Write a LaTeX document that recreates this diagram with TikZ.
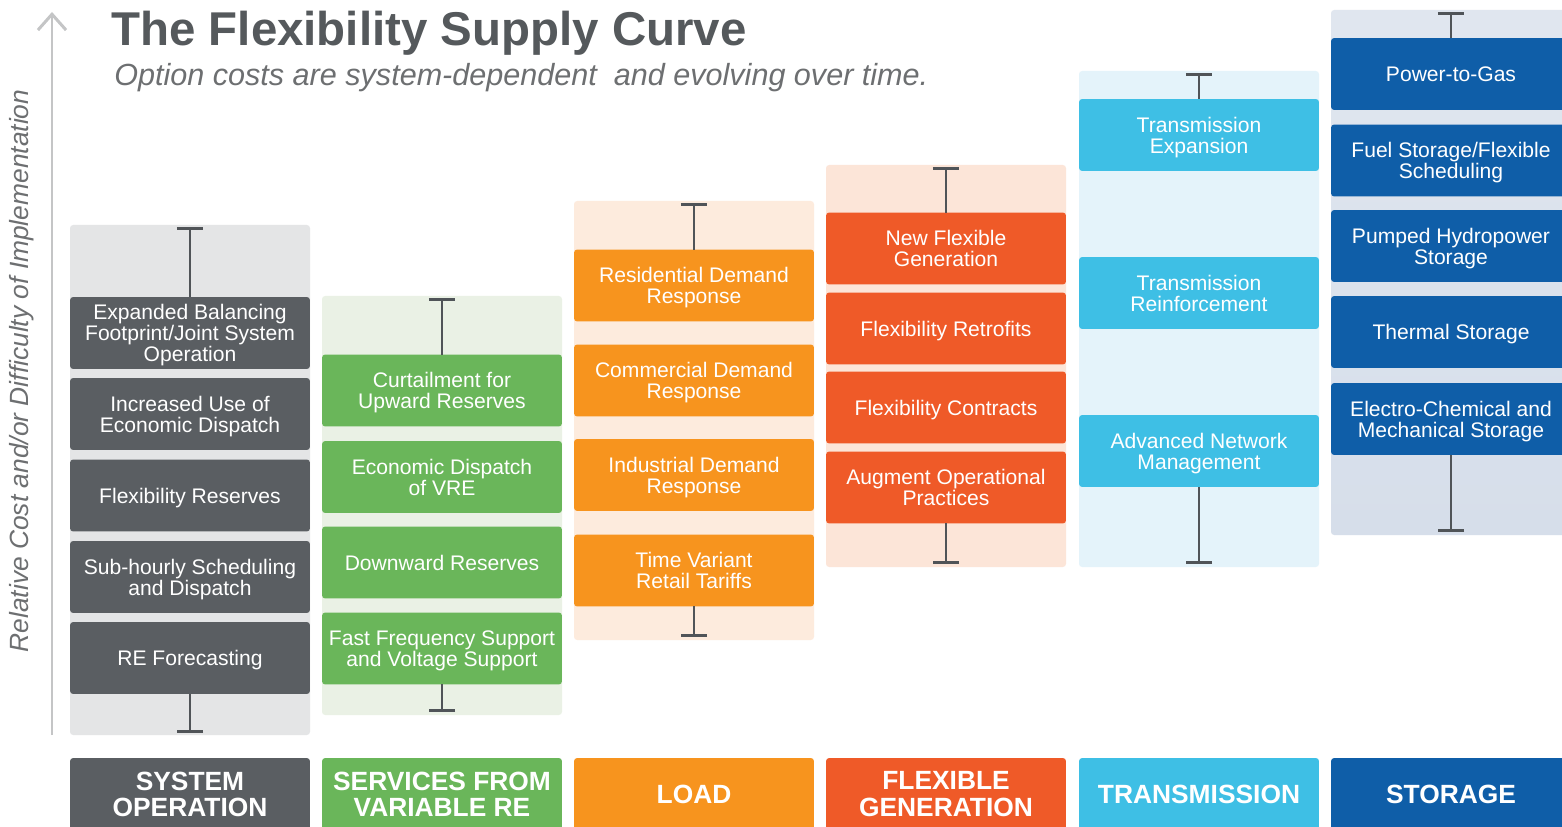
\documentclass[tikz,border=0pt]{standalone}
\usepackage{fontspec}
\setmainfont{Liberation Sans}
\usetikzlibrary{arrows.meta}

\definecolor{sysop}{HTML}{5A5E62}
\definecolor{sysopbg}{HTML}{E4E5E6}
\definecolor{vre}{HTML}{6AB65A}
\definecolor{vrebg}{HTML}{EAF1E5}
\definecolor{load}{HTML}{F7941E}
\definecolor{loadbg}{HTML}{FDEBDD}
\definecolor{flexgen}{HTML}{EF5A28}
\definecolor{flexgenbg}{HTML}{FCE5D8}
\definecolor{trans}{HTML}{3EBFE5}
\definecolor{transbg}{HTML}{E4F3FA}
\definecolor{storage}{HTML}{0F5EA8}
\definecolor{storagebg}{HTML}{D6DEEA}
\definecolor{titlegray}{HTML}{55595C}
\definecolor{subgray}{HTML}{6D6F71}
\definecolor{axisgray}{HTML}{C4C5C6}
\definecolor{bargray}{HTML}{505458}

\tikzset{
  option/.style={rectangle, rounded corners=1.8pt, text=white, align=center,
    minimum width=4.8cm, minimum height=1.44cm, inner sep=0pt, outer sep=0pt,
    text depth=-1pt, font=\fontsize{12}{12}\selectfont},
  category/.style={option, text depth=0pt, font=\fontsize{15}{15}\selectfont\bfseries},
  panel/.style={rounded corners=1.8pt},
  errbar/.style={bargray, line width=1.5pt, {Bar[width=15pt]}-},
}

\begin{document}
\begin{tikzpicture}[x=0.02cm, y=-0.02cm]
    \useasboundingbox (0,0) rectangle (1562,827);
    \fill[white] (0,0) rectangle (1562,827);
    \clip (0,0) rectangle (1562,827);

    % Heading and vertical axis
    \node[anchor=base west, inner sep=0pt, text=titlegray, font=\fontsize{27}{27}\selectfont\bfseries] (title) at (111,46) {The Flexibility Supply Curve};
    \node[anchor=base west, inner sep=0pt, text=subgray, font=\fontsize{17.4}{17.4}\selectfont\itshape] (subtitle) at (114,86) {Option costs are system-dependent\ \ and evolving over time.};
    \node[rotate=90, text=subgray, font=\fontsize{15}{15}\selectfont\itshape] (ylabel) at (22,371) {Relative Cost and/or Difficulty of Implementation};
    \coordinate (axis-lo) at (52,735);
    \coordinate (axis-hi) at (52,12);
    \draw[axisgray, line width=1.7pt, -{Straight Barb[length=9pt, width=16pt]}] (axis-lo) -- (axis-hi);

    % Cost ranges behind each column
    \fill[panel, sysopbg] (70,225) rectangle (310,735);
    \fill[panel, vrebg] (322,296) rectangle (562,715);
    \fill[panel, loadbg] (574,201) rectangle (814,640);
    \fill[panel, flexgenbg] (826,165) rectangle (1066,567);
    \shade[panel, top color=transbg, middle color=transbg!30, bottom color=transbg] (1079,71) rectangle (1319,567);
    \shade[panel, top color=storagebg!75, bottom color=storagebg] (1331,10) rectangle (1571,535);

    \coordinate (so-hi) at (190,227);  \coordinate (so-lo) at (190,733);
    \coordinate (vre-hi) at (442,298); \coordinate (vre-lo) at (442,712);
    \coordinate (ld-hi) at (694,203);  \coordinate (ld-lo) at (694,637);
    \coordinate (fg-hi) at (946,167);  \coordinate (fg-lo) at (946,564);
    \coordinate (tx-hi) at (1199,73);  \coordinate (tx-lo) at (1199,564);
    \coordinate (st-hi) at (1451,12);  \coordinate (st-lo) at (1451,532);

    % System operation
    \node[option, fill=sysop] (so1) at (190,333) {Expanded Balancing\\Footprint/Joint System\\Operation};
    \node[option, fill=sysop] (so2) at (190,414) {Increased Use of\\Economic Dispatch};
    \node[option, fill=sysop] (so3) at (190,495.5) {Flexibility Reserves};
    \node[option, fill=sysop] (so4) at (190,577) {Sub-hourly Scheduling\\and Dispatch};
    \node[option, fill=sysop] (so5) at (190,658) {RE Forecasting};

    % Services from variable RE
    \node[option, fill=vre] (vre1) at (442,390.5) {Curtailment for\\Upward Reserves};
    \node[option, fill=vre] (vre2) at (442,477) {Economic Dispatch\\of VRE};
    \node[option, fill=vre] (vre3) at (442,562.5) {Downward Reserves};
    \node[option, fill=vre] (vre4) at (442,648.5) {Fast Frequency Support\\and Voltage Support};

    % Load
    \node[option, fill=load] (ld1) at (694,285.5) {Residential Demand\\Response};
    \node[option, fill=load] (ld2) at (694,380.5) {Commercial Demand\\Response};
    \node[option, fill=load] (ld3) at (694,475) {Industrial Demand\\Response};
    \node[option, fill=load] (ld4) at (694,570.5) {Time Variant\\Retail Tariffs};

    % Flexible generation
    \node[option, fill=flexgen] (fg1) at (946,248.5) {New Flexible\\Generation};
    \node[option, fill=flexgen] (fg2) at (946,328.5) {Flexibility Retrofits};
    \node[option, fill=flexgen] (fg3) at (946,407.5) {Flexibility Contracts};
    \node[option, fill=flexgen] (fg4) at (946,487.5) {Augment Operational\\Practices};

    % Transmission
    \node[option, fill=trans] (tx1) at (1199,135) {Transmission\\Expansion};
    \node[option, fill=trans] (tx2) at (1199,293) {Transmission\\Reinforcement};
    \node[option, fill=trans] (tx3) at (1199,451) {Advanced Network\\Management};

    % Storage
    \node[option, fill=storage] (st1) at (1451,74) {Power-to-Gas};
    \node[option, fill=storage] (st2) at (1451,160.5) {Fuel Storage/Flexible\\Scheduling};
    \node[option, fill=storage] (st3) at (1451,246) {Pumped Hydropower\\Storage};
    \node[option, fill=storage] (st4) at (1451,332) {Thermal Storage};
    \node[option, fill=storage] (st5) at (1451,419) {Electro-Chemical and\\Mechanical Storage};

    % Error bars
    \draw[errbar] (so-hi) -- (so1.north);   \draw[errbar] (so-lo) -- (so5.south);
    \draw[errbar] (vre-hi) -- (vre1.north); \draw[errbar] (vre-lo) -- (vre4.south);
    \draw[errbar] (ld-hi) -- (ld1.north);   \draw[errbar] (ld-lo) -- (ld4.south);
    \draw[errbar] (fg-hi) -- (fg1.north);   \draw[errbar] (fg-lo) -- (fg4.south);
    \draw[errbar] (tx-hi) -- (tx1.north);   \draw[errbar] (tx-lo) -- (tx3.south);
    \draw[errbar] (st-hi) -- (st1.north);   \draw[errbar] (st-lo) -- (st5.south);

    % Category labels
    \node[category, fill=sysop] (so) at (190,794) {SYSTEM\\OPERATION};
    \node[category, fill=vre] (vre) at (442,794) {SERVICES FROM\\VARIABLE RE};
    \node[category, fill=load] (ld) at (694,794) {LOAD};
    \node[category, fill=flexgen] (fg) at (946,794) {FLEXIBLE\\GENERATION};
    \node[category, fill=trans] (tx) at (1199,794) {TRANSMISSION};
    \node[category, fill=storage] (st) at (1451,794) {STORAGE};
\end{tikzpicture}
\end{document}
